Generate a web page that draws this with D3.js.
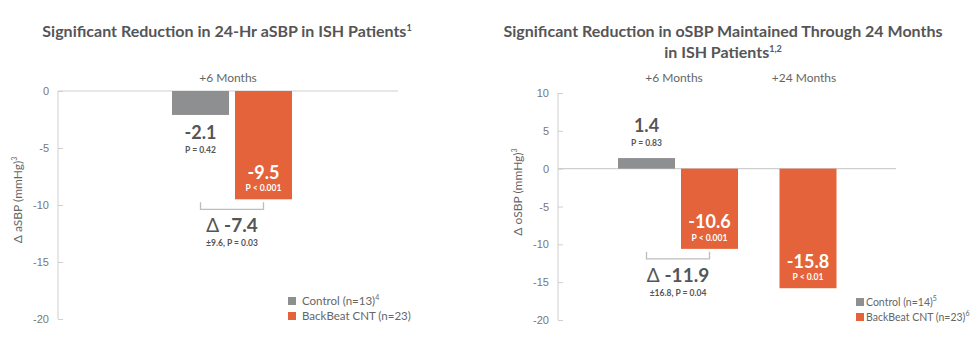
<!DOCTYPE html>
<html>
<head>
<meta charset="utf-8">
<script src="https://cdn.jsdelivr.net/npm/d3@7"></script>
<style>
  html, body { margin: 0; padding: 0; background: #fff; }
  svg { display: block; font-family: Lato, "Open Sans", sans-serif; }
</style>
</head>
<body>
<svg id="chart" width="976" height="360"></svg>
<script>
// ---- data ----
const seriesKeys = ["Control", "BackBeat CNT"];

// Left panel: 24-Hr aSBP
const aCategories = ["+6 Months"];
const aControl = [-2.1];
const aBackBeat = [-9.5];
const aControlP = ["P = 0.42"];
const aBackBeatP = ["P < 0.001"];
const aDelta = [-7.4];
const aDeltaNote = ["±9.6, P = 0.03"];
const aTicks = [0, -5, -10, -15, -20];
const aLegend = [["Control (n=13)", "4"], ["BackBeat CNT (n=23)", ""]];

// Right panel: oSBP
const oCategories = ["+6 Months", "+24 Months"];
const oControl = [1.4, null];
const oBackBeat = [-10.6, -15.8];
const oControlP = ["P = 0.83", null];
const oBackBeatP = ["P < 0.001", "P < 0.01"];
const oDelta = [-11.9, null];
const oDeltaNote = ["±16.8, P = 0.04", null];
const oTicks = [10, 5, 0, -5, -10, -15, -20];
const oLegend = [["Control (n=14)", "5"], ["BackBeat CNT (n=23)", "6"]];

// ---- style ----
const colors = { "Control": "#8e8f91", "BackBeat CNT": "#e5633a" };
const textColor = "#555557";
const axisColor = "#cfcfcf";

const svg = d3.select("#chart");

function panel(cfg) {
  const g = svg.append("g");
  const y = d3.scaleLinear().domain(cfg.yDomain).range(cfg.yRange);
  const x = d3.scaleBand().domain(cfg.categories).range(cfg.bandRange);
  const bw = x.bandwidth();
  const inner = d3.scaleBand().domain(seriesKeys)
    .range([bw / 2 - 60, bw / 2 + 60]).paddingInner(6 / 63);
  const barW = inner.bandwidth();

  // title
  cfg.title.forEach((t, i) => {
    const tx = g.append("text")
      .attr("x", cfg.titleX).attr("y", cfg.titleY + i * 21)
      .attr("text-anchor", "middle")
      .attr("fill", textColor).attr("font-weight", 700)
      .attr("font-size", 16);
    tx.append("tspan").text(t[0]);
    if (t[1]) tx.append("tspan").attr("font-size", 9).attr("dy", -6).text(t[1]);
  });

  // category labels
  g.selectAll(".cat").data(cfg.categories).join("text")
    .attr("x", d => x(d) + bw / 2 - 4).attr("y", 82)
    .attr("text-anchor", "middle").attr("fill", "#666")
    .attr("font-size", 12).text(d => d);

  // y axis
  const axis = d3.axisLeft(y).tickValues(cfg.ticks).tickSize(-5).tickPadding(9)
    .tickFormat(d => String(d));
  const ag = g.append("g").attr("transform", `translate(${cfg.axisX},0)`).call(axis);
  ag.select(".domain").attr("stroke", axisColor).attr("d", `M0,${cfg.yRange[0]}V${cfg.yRange[1]}`);
  ag.selectAll(".tick line").attr("stroke", axisColor);
  ag.selectAll(".tick text").attr("fill", "#777").attr("font-size", 11);

  // zero line
  g.append("line").attr("x1", cfg.axisX).attr("x2", cfg.axisEnd)
    .attr("y1", y(0)).attr("y2", y(0)).attr("stroke", axisColor).attr("stroke-width", 1.2);

  // y label
  const yl = g.append("text")
    .attr("transform", `translate(${cfg.yLabelX},${cfg.yLabelY}) rotate(-90)`)
    .attr("text-anchor", "middle").attr("fill", "#666").attr("font-size", 12);
  yl.append("tspan").text(cfg.yLabel);
  yl.append("tspan").attr("font-size", 7).attr("dy", -5).text("3");

  // bars
  cfg.categories.forEach((cat, i) => {
    const vals = { "Control": cfg.control[i], "BackBeat CNT": cfg.backbeat[i] };
    const ps = { "Control": cfg.controlP[i], "BackBeat CNT": cfg.backbeatP[i] };
    const present = seriesKeys.filter(k => vals[k] != null);
    const barX = k => present.length === 1 ? x(cat) + bw / 2 - barW / 2 : x(cat) + inner(k);
    present.forEach(k => {
      const v = vals[k];
      const bx = barX(k);
      g.append("rect").attr("x", bx).attr("width", barW)
        .attr("y", Math.min(y(v), y(0))).attr("height", Math.abs(y(v) - y(0)))
        .attr("fill", colors[k]);
      const cx = bx + barW / 2;
      if (k === "Control") {
        const end = y(v);
        const vy = v < 0 ? end + 18 : end - 32;
        const py = v < 0 ? end + 35 : end - 15;
        g.append("text").attr("x", cx).attr("y", vy).attr("dy", "0.35em")
          .attr("text-anchor", "middle").attr("fill", textColor)
          .attr("font-weight", 700).attr("font-size", 18).text(v.toFixed(1));
        g.append("text").attr("x", cx).attr("y", py).attr("dy", "0.35em")
          .attr("text-anchor", "middle").attr("fill", textColor)
          .attr("font-weight", 700).attr("font-size", 8.5).text(ps[k]);
      } else {
        const end = y(v);
        g.append("text").attr("x", cx).attr("y", end - 27).attr("dy", "0.35em")
          .attr("text-anchor", "middle").attr("fill", "#fff")
          .attr("font-weight", 700).attr("font-size", 18).text(v.toFixed(1));
        g.append("text").attr("x", cx).attr("y", end - 11).attr("dy", "0.35em")
          .attr("text-anchor", "middle").attr("fill", "#fff")
          .attr("font-weight", 700).attr("font-size", 8.5).text(ps[k]);
      }
    });

    // delta bracket
    if (cfg.delta[i] != null && present.length === 2) {
      const x1 = barX("Control") + barW / 2;
      const x2 = barX("BackBeat CNT") + barW / 2;
      const top = y(vals["BackBeat CNT"]) + 3;
      const bot = top + 7;
      g.append("path").attr("d", `M${x1},${top}V${bot}H${x2}V${top}`)
        .attr("fill", "none").attr("stroke", "#bdbdbd").attr("stroke-width", 1.3);
      const mx = (x1 + x2) / 2;
      const dt = g.append("text").attr("x", mx).attr("y", bot + 16).attr("dy", "0.35em")
        .attr("text-anchor", "middle").attr("fill", textColor).attr("font-size", 19);
      dt.append("tspan").attr("font-weight", 400).text("Δ ");
      dt.append("tspan").attr("font-weight", 700).text(cfg.delta[i].toFixed(1));
      g.append("text").attr("x", mx).attr("y", bot + 34).attr("dy", "0.35em")
        .attr("text-anchor", "middle").attr("fill", textColor)
        .attr("font-weight", 700).attr("font-size", 8.5).text(cfg.deltaNote[i]);
    }
  });

  // legend
  seriesKeys.forEach((k, i) => {
    const ly = cfg.legendY + i * 15;
    g.append("rect").attr("x", cfg.legendX).attr("y", ly - 4).attr("width", 8).attr("height", 8)
      .attr("fill", colors[k]);
    const lt = g.append("text").attr("x", cfg.legendX + cfg.legendGap).attr("y", ly).attr("dy", "0.35em")
      .attr("fill", "#666").attr("font-size", cfg.legendFont);
    lt.append("tspan").text(cfg.legend[i][0]);
    if (cfg.legend[i][1]) lt.append("tspan").attr("font-size", 7).attr("dy", -5).text(cfg.legend[i][1]);
  });
}

panel({
  title: [["Significant Reduction in 24-Hr aSBP in ISH Patients", "1"]],
  titleX: 227, titleY: 37,
  categories: aCategories, control: aControl, backbeat: aBackBeat,
  controlP: aControlP, backbeatP: aBackBeatP, delta: aDelta, deltaNote: aDeltaNote,
  ticks: aTicks, yDomain: [0, -20], yRange: [91, 319],
  bandRange: [167, 297], axisX: 58, axisEnd: 398,
  yLabel: "Δ aSBP (mmHg)", yLabelX: 22, yLabelY: 200,
  legend: aLegend, legendX: 288, legendY: 301, legendGap: 14, legendFont: 11.5
});

panel({
  title: [["Significant Reduction in oSBP Maintained Through 24 Months", ""], ["in ISH Patients", "1,2"]],
  titleX: 723, titleY: 37,
  categories: oCategories, control: oControl, backbeat: oBackBeat,
  controlP: oControlP, backbeatP: oBackBeatP, delta: oDelta, deltaNote: oDeltaNote,
  ticks: oTicks, yDomain: [10, -20], yRange: [93, 320],
  bandRange: [613, 873], axisX: 558, axisEnd: 896,
  yLabel: "Δ oSBP (mmHg)", yLabelX: 522, yLabelY: 192,
  legend: oLegend, legendX: 856, legendY: 302, legendGap: 10, legendFont: 10.5
});
</script>
</body>
</html>
